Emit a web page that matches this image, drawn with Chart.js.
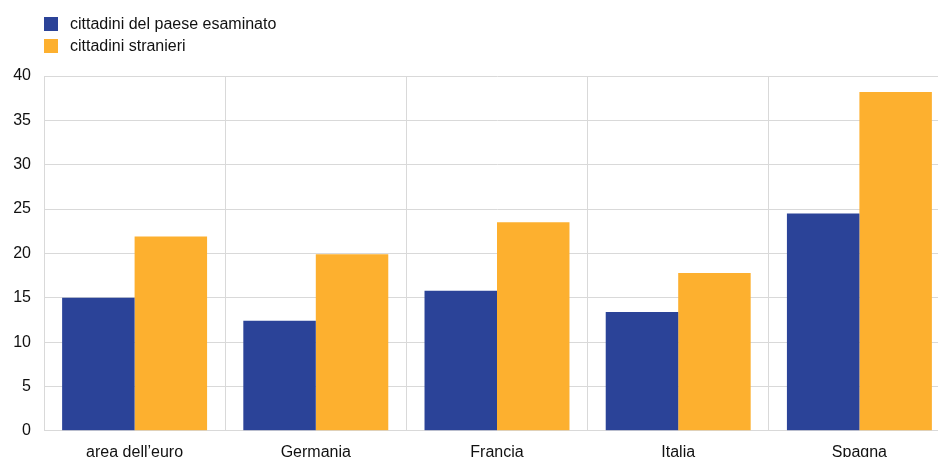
<!DOCTYPE html>
<html>
<head>
<meta charset="utf-8">
<script src="https://cdn.jsdelivr.net/npm/chart.js@4.4.1/dist/chart.umd.min.js"></script>
<style>
  html, body { margin: 0; padding: 0; background: #fff; }
  #wrap { position: relative; width: 938px; height: 457px; overflow: hidden; }
  #box { position: absolute; left: 0; top: 0; width: 950px; height: 474px; }
  #legend { position: absolute; left: 44px; top: 13px; font: 16px "Liberation Sans", Arial, sans-serif; color: #111; }
  #legend div { display: flex; align-items: center; height: 22px; }
  #legend span { display: inline-block; width: 14px; height: 14px; margin-right: 12px; }
</style>
</head>
<body>
<div id="wrap">
  <div id="box"><canvas id="chart"></canvas></div>
  <div id="legend"></div>
</div>
<script>
// Tassi per cittadinanza, percentuali
const categories = ['area dell\u2019euro', 'Germania', 'Francia', 'Italia', 'Spagna'];
const nationals = [15.0, 12.4, 15.8, 13.4, 24.5];
const foreigners = [21.9, 19.9, 23.5, 17.8, 38.2];
const seriesNames = ['cittadini del paese esaminato', 'cittadini stranieri'];
const yTicks = [0, 5, 10, 15, 20, 25, 30, 35, 40];

const BLUE = '#2b4398';
const ORANGE = '#fdb02f';
const GRID = '#d9d9d9';
const FONT = '"Liberation Sans", Arial, sans-serif';

const datasets = [
  { label: seriesNames[0], data: nationals, backgroundColor: BLUE },
  { label: seriesNames[1], data: foreigners, backgroundColor: ORANGE },
];

document.getElementById('legend').innerHTML = datasets.map((d) =>
  `<div><span style="background:${d.backgroundColor}"></span>${d.label}</div>`
).join('');

new Chart(document.getElementById('chart'), {
  type: 'bar',
  data: {
    labels: categories,
    datasets: datasets.map((d) => ({
      ...d,
      categoryPercentage: 0.8,
      barPercentage: 1.0,
      borderWidth: 0,
    })),
  },
  options: {
    responsive: true,
    maintainAspectRatio: false,
    animation: false,
    layout: { padding: { top: 76, right: 0, left: 0, bottom: 0 } },
    plugins: {
      legend: { display: false },
      tooltip: { enabled: false },
    },
    scales: {
      x: {
        grid: { color: GRID, offset: true, drawTicks: false },
        border: { color: GRID },
        ticks: { color: '#111', padding: 12, font: { family: FONT, size: 16 } },
      },
      y: {
        min: 0,
        max: 40,
        afterBuildTicks: (axis) => { axis.ticks = yTicks.map((v) => ({ value: v })); },
        afterFit: (axis) => { axis.width = 44; },
        grid: { color: GRID, drawTicks: false },
        border: { color: GRID },
        ticks: { color: '#111', padding: 13, font: { family: FONT, size: 16 } },
      },
    },
  },
});
</script>
</body>
</html>
